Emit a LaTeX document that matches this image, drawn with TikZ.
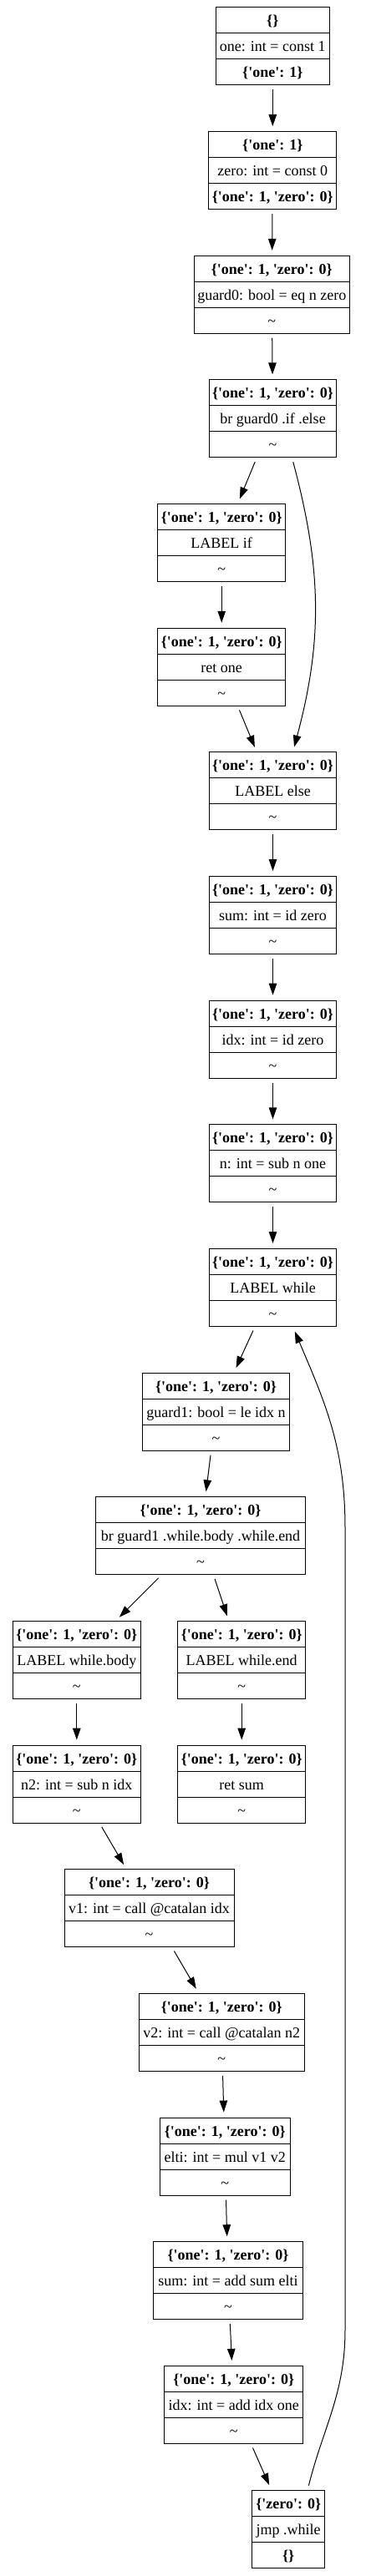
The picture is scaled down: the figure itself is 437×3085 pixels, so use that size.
\documentclass[tikz,border=0pt]{standalone}
\usepackage{fontspec}
\setmainfont{Liberation Serif}
\usetikzlibrary{shapes.multipart,arrows.meta}
\newcommand{\rw}[1]{\rule[-8.5pt]{0pt}{30pt}#1}
\newcommand{\qt}{\textquotesingle}
\newcommand{\stboth}{\textbf{\{\qt one\qt: 1, \qt zero\qt: 0\}}}
\newcommand{\nil}{\textasciitilde}

\begin{document}
\begin{tikzpicture}[x=1pt,y=1pt,
  cell/.style={draw, line width=1pt, rectangle split, rectangle split parts=3,
    inner xsep=4pt, inner ysep=0pt, font=\fontsize{18}{21}\selectfont},
  flow/.style={line width=1pt, -{Triangle[length=14pt,width=9.5pt]},
    shorten <=5pt, shorten >=6pt}]
\useasboundingbox (0,0) rectangle (437,-3085);

% entry
\node[cell, minimum width=136pt] (n1) at (326.3,-55.5)
  {\rw{\textbf{\{\}}}\nodepart{two}\rw{one: int = const 1}\nodepart{three}\rw{\textbf{\{\qt one\qt: 1\}}}};
\node[cell, minimum width=152.5pt] (n2) at (326.3,-204.15)
  {\rw{\textbf{\{\qt one\qt: 1\}}}\nodepart{two}\rw{zero: int = const 0}\nodepart{three}\rw{\stboth}};
\node[cell, minimum width=186pt] (n3) at (325.3,-352.8)
  {\rw{\stboth}\nodepart{two}\rw{guard0: bool = eq n zero}\nodepart{three}\rw{\nil}};
\node[cell, minimum width=152.4pt] (n4) at (326.5,-501.45)
  {\rw{\stboth}\nodepart{two}\rw{br guard0 .if .else}\nodepart{three}\rw{\nil}};

% if branch
\node[cell, minimum width=152.3pt] (n5) at (265.2,-650.1)
  {\rw{\stboth}\nodepart{two}\rw{LABEL if}\nodepart{three}\rw{\nil}};
\node[cell, minimum width=152.3pt] (n6) at (265.2,-798.75)
  {\rw{\stboth}\nodepart{two}\rw{ret one}\nodepart{three}\rw{\nil}};

% else branch
\node[cell, minimum width=152.4pt] (n7) at (326.5,-947.4)
  {\rw{\stboth}\nodepart{two}\rw{LABEL else}\nodepart{three}\rw{\nil}};
\node[cell, minimum width=152.4pt] (n8) at (326.5,-1096.05)
  {\rw{\stboth}\nodepart{two}\rw{sum: int = id zero}\nodepart{three}\rw{\nil}};
\node[cell, minimum width=152.4pt] (n9) at (326.5,-1244.7)
  {\rw{\stboth}\nodepart{two}\rw{idx: int = id zero}\nodepart{three}\rw{\nil}};
\node[cell, minimum width=152.4pt] (n10) at (326.5,-1393.35)
  {\rw{\stboth}\nodepart{two}\rw{n: int = sub n one}\nodepart{three}\rw{\nil}};

% loop head
\node[cell, minimum width=152.4pt] (n11) at (326.5,-1542)
  {\rw{\stboth}\nodepart{two}\rw{LABEL while}\nodepart{three}\rw{\nil}};
\node[cell, minimum width=176.4pt] (n12) at (258.5,-1690.65)
  {\rw{\stboth}\nodepart{two}\rw{guard1: bool = le idx n}\nodepart{three}\rw{\nil}};
\node[cell, minimum width=250.6pt] (n13) at (240,-1839.3)
  {\rw{\stboth}\nodepart{two}\rw{br guard1 .while.body .while.end}\nodepart{three}\rw{\nil}};
\node[cell, minimum width=152.3pt] (n14) at (91.8,-1987.95)
  {\rw{\stboth}\nodepart{two}\rw{LABEL while.body}\nodepart{three}\rw{\nil}};
\node[cell, minimum width=152.3pt] (n15) at (289.2,-1987.95)
  {\rw{\stboth}\nodepart{two}\rw{LABEL while.end}\nodepart{three}\rw{\nil}};
\node[cell, minimum width=152.3pt] (n16) at (91.8,-2136.6)
  {\rw{\stboth}\nodepart{two}\rw{n2: int = sub n idx}\nodepart{three}\rw{\nil}};
\node[cell, minimum width=152.3pt] (n17) at (289.2,-2136.6)
  {\rw{\stboth}\nodepart{two}\rw{ret sum}\nodepart{three}\rw{\nil}};

% loop body
\node[cell, minimum width=203pt] (n18) at (178.5,-2285.25)
  {\rw{\stboth}\nodepart{two}\rw{v1: int = call @catalan idx}\nodepart{three}\rw{\nil}};
\node[cell, minimum width=198.3pt] (n19) at (265.2,-2433.9)
  {\rw{\stboth}\nodepart{two}\rw{v2: int = call @catalan n2}\nodepart{three}\rw{\nil}};
\node[cell, minimum width=156.3pt] (n20) at (269.2,-2582.55)
  {\rw{\stboth}\nodepart{two}\rw{elti: int = mul v1 v2}\nodepart{three}\rw{\nil}};
\node[cell, minimum width=179.4pt] (n21) at (273,-2731.2)
  {\rw{\stboth}\nodepart{two}\rw{sum: int = add sum elti}\nodepart{three}\rw{\nil}};
\node[cell, minimum width=166.3pt] (n22) at (279.8,-2879.85)
  {\rw{\stboth}\nodepart{two}\rw{idx: int = add idx one}\nodepart{three}\rw{\nil}};
\node[cell, minimum width=87pt] (n23) at (345.2,-3028.5)
  {\rw{\textbf{\{\qt zero\qt: 0\}}}\nodepart{two}\rw{jmp .while}\nodepart{three}\rw{\textbf{\{\}}}};

\coordinate (lpb) at (413,-2790);
\coordinate (lpt) at (413,-1830);

\draw[flow] (n1) -- (n2);
\draw[flow] (n2) -- (n3);
\draw[flow] (n3) -- (n4);
\draw[flow] (n4) -- (n5);
\draw[flow] ([xshift=23pt]n4.south) to[out=-75,in=75] ([xshift=24pt]n7.north);
\draw[flow] (n5) -- (n6);
\draw[flow] (n6) -- (n7);
\draw[flow] (n7) -- (n8);
\draw[flow] (n8) -- (n9);
\draw[flow] (n9) -- (n10);
\draw[flow] (n10) -- (n11);
\draw[flow] (n11) -- (n12);
\draw[flow] (n12) -- (n13);
\draw[flow] (n13) -- (n14);
\draw[flow] (n13) -- (n15);
\draw[flow] (n14) -- (n16);
\draw[flow] (n15) -- (n17);
\draw[flow] (n16) -- (n18);
\draw[flow] (n18) -- (n19);
\draw[flow] (n19) -- (n20);
\draw[flow] (n20) -- (n21);
\draw[flow] (n21) -- (n22);
\draw[flow] (n22) -- (n23);
\draw[flow] ([xshift=23pt]n23.north) to[out=76,in=-90] (lpb) -- (lpt)
  to[out=90,in=-67] ([xshift=24pt]n11.south);
\end{tikzpicture}
\end{document}
